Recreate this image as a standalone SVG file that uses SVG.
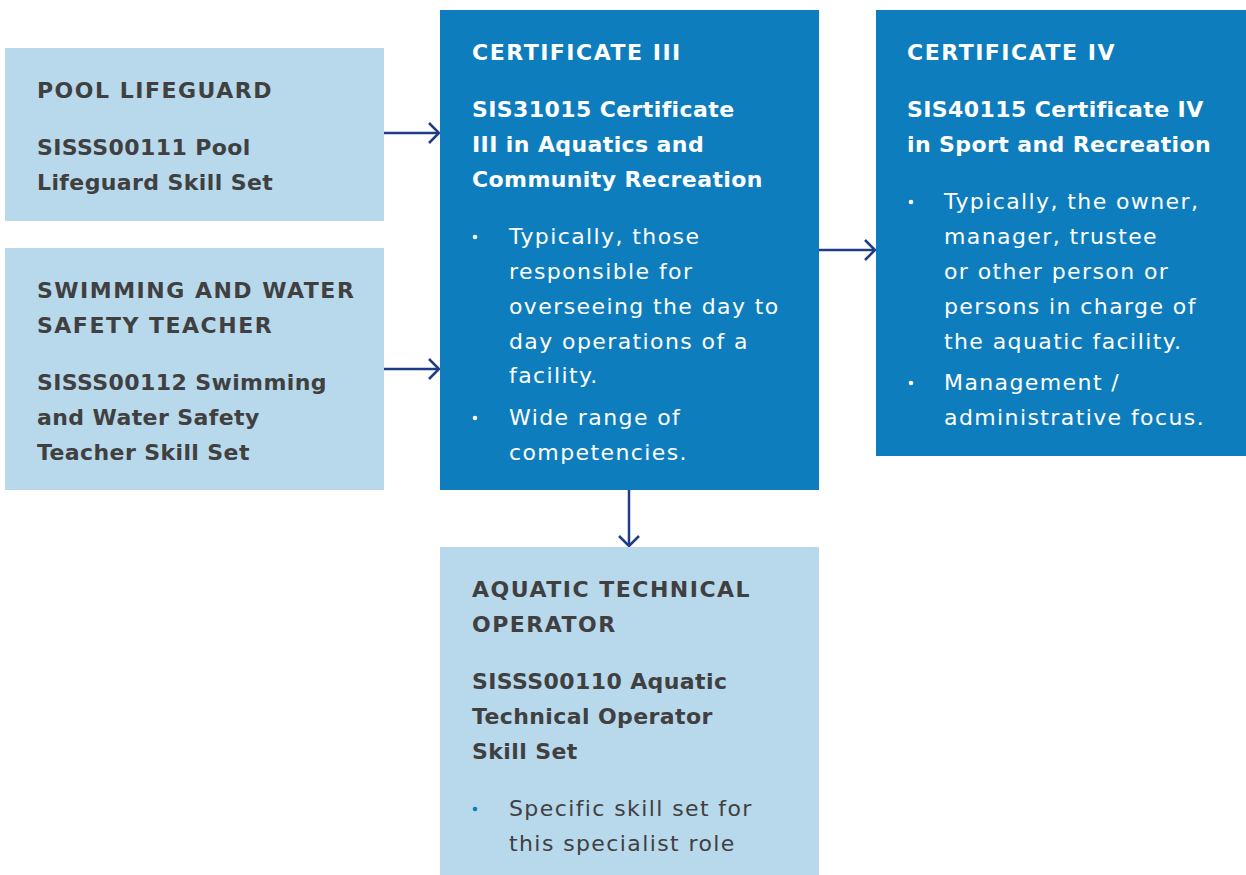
<svg xmlns="http://www.w3.org/2000/svg" width="1246" height="875" viewBox="0 0 1246 875">
<defs>
<style>
.light{fill:#b8d8eb}
.dark{fill:#0e7dbd}
text{font-family:"DejaVu Sans","Liberation Sans",sans-serif;font-size:22px}
.h{font-weight:bold;letter-spacing:1.5px}
.b{font-weight:bold;letter-spacing:0.4px}
.r{letter-spacing:1.4px}
.dk{fill:#404041}
.wt{fill:#ffffff}
.conn{stroke:#1f3c88;stroke-width:2.5;fill:none}
</style>
<marker id="arr" viewBox="0 0 12 22" refX="11" refY="11" markerWidth="12" markerHeight="22" markerUnits="userSpaceOnUse" orient="auto">
<path d="M1,1 L11,11 L1,21" fill="none" stroke="#1f3c88" stroke-width="2.5"/>
</marker>
</defs>
<rect width="1246" height="875" fill="#ffffff"/>
<g id="pool-lifeguard">
<rect class="light" x="5" y="48" width="379" height="173"/>
<text class="h dk" x="37" y="98">POOL LIFEGUARD</text>
<text class="b dk" x="37" y="155">SISSS00111 Pool</text>
<text class="b dk" x="37" y="190">Lifeguard Skill Set</text>
</g>
<g id="swimming-teacher">
<rect class="light" x="5" y="248" width="379" height="242"/>
<text class="h dk" x="37" y="298">SWIMMING AND WATER</text>
<text class="h dk" x="37" y="333">SAFETY TEACHER</text>
<text class="b dk" x="37" y="390">SISSS00112 Swimming</text>
<text class="b dk" x="37" y="425">and Water Safety</text>
<text class="b dk" x="37" y="460">Teacher Skill Set</text>
</g>
<g id="certificate-iii">
<rect class="dark" x="440" y="10" width="379" height="480"/>
<text class="h wt" x="472" y="60">CERTIFICATE III</text>
<text class="b wt" x="472" y="117">SIS31015 Certificate</text>
<text class="b wt" x="472" y="152">III in Aquatics and</text>
<text class="b wt" x="472" y="187">Community Recreation</text>
<circle cx="475" cy="237" r="2.3" fill="#ffffff"/>
<text class="r wt" x="509" y="244">Typically, those</text>
<text class="r wt" x="509" y="279">responsible for</text>
<text class="r wt" x="509" y="314">overseeing the day to</text>
<text class="r wt" x="509" y="349">day operations of a</text>
<text class="r wt" x="509" y="383">facility.</text>
<circle cx="475" cy="418" r="2.3" fill="#ffffff"/>
<text class="r wt" x="509" y="425">Wide range of</text>
<text class="r wt" x="509" y="460">competencies.</text>
</g>
<g id="certificate-iv">
<rect class="dark" x="876" y="10" width="370" height="446"/>
<text class="h wt" x="907" y="60">CERTIFICATE IV</text>
<text class="b wt" x="907" y="117">SIS40115 Certificate IV</text>
<text class="b wt" x="907" y="152">in Sport and Recreation</text>
<circle cx="911" cy="202" r="2.3" fill="#ffffff"/>
<text class="r wt" x="944" y="209">Typically, the owner,</text>
<text class="r wt" x="944" y="244">manager, trustee</text>
<text class="r wt" x="944" y="279">or other person or</text>
<text class="r wt" x="944" y="314">persons in charge of</text>
<text class="r wt" x="944" y="349">the aquatic facility.</text>
<circle cx="911" cy="383" r="2.3" fill="#ffffff"/>
<text class="r wt" x="944" y="390">Management /</text>
<text class="r wt" x="944" y="425">administrative focus.</text>
</g>
<g id="aquatic-technical-operator">
<rect class="light" x="440" y="547" width="379" height="328"/>
<text class="h dk" x="472" y="597">AQUATIC TECHNICAL</text>
<text class="h dk" x="472" y="632">OPERATOR</text>
<text class="b dk" x="472" y="689">SISSS00110 Aquatic</text>
<text class="b dk" x="472" y="724">Technical Operator</text>
<text class="b dk" x="472" y="759">Skill Set</text>
<circle cx="475" cy="809" r="2.3" fill="#0e7dbd"/>
<text class="r dk" x="509" y="816">Specific skill set for</text>
<text class="r dk" x="509" y="851">this specialist role</text>
</g>
<g id="connectors">
<line class="conn" x1="384" y1="133" x2="439" y2="133" marker-end="url(#arr)"/>
<line class="conn" x1="384" y1="369" x2="439" y2="369" marker-end="url(#arr)"/>
<line class="conn" x1="819" y1="250" x2="875" y2="250" marker-end="url(#arr)"/>
<line class="conn" x1="629" y1="490" x2="629" y2="546" marker-end="url(#arr)"/>
</g>
</svg>
